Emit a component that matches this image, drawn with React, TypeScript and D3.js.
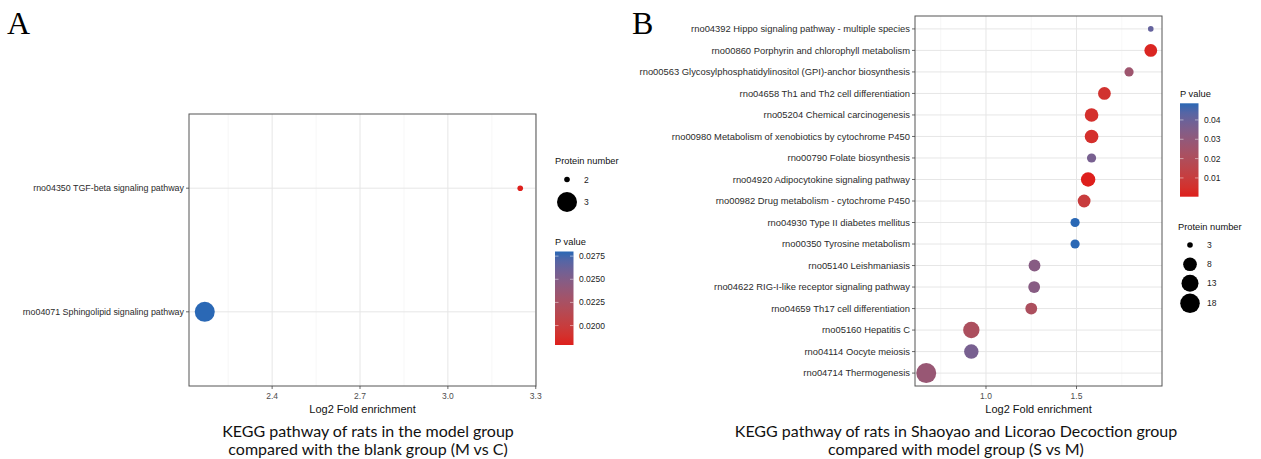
import * as d3 from 'd3'

// Panel A: model vs blank (M vs C)
const A_PATHWAYS = [
  'rno04350 TGF-beta signaling pathway',
  'rno04071 Sphingolipid signaling pathway',
]
const A_FOLD = [3.247, 2.17]
const A_COUNT = [2, 3]
const A_PVALUE = [0.0179, 0.028]
const A_X_TICKS = [2.4, 2.7, 3.0, 3.3]
const A_SIZE_BREAKS = [2, 3]
const A_P_BREAKS = [0.02, 0.0225, 0.025, 0.0275]

// Panel B: Shaoyao and Licorao Decoction vs model (S vs M)
const B_PATHWAYS = [
  'rno04392 Hippo signaling pathway - multiple species',
  'rno00860 Porphyrin and chlorophyll metabolism',
  'rno00563 Glycosylphosphatidylinositol (GPI)-anchor biosynthesis',
  'rno04658 Th1 and Th2 cell differentiation',
  'rno05204 Chemical carcinogenesis',
  'rno00980 Metabolism of xenobiotics by cytochrome P450',
  'rno00790 Folate biosynthesis',
  'rno04920 Adipocytokine signaling pathway',
  'rno00982 Drug metabolism - cytochrome P450',
  'rno04930 Type II diabetes mellitus',
  'rno00350 Tyrosine metabolism',
  'rno05140 Leishmaniasis',
  'rno04622 RIG-I-like receptor signaling pathway',
  'rno04659 Th17 cell differentiation',
  'rno05160 Hepatitis C',
  'rno04114 Oocyte meiosis',
  'rno04714 Thermogenesis',
]
const B_FOLD = [1.91, 1.91, 1.79, 1.654, 1.583, 1.583, 1.583, 1.564, 1.542, 1.492, 1.492, 1.268, 1.266, 1.25, 0.919, 0.919, 0.67]
const B_COUNT = [3, 7, 4, 7, 8, 8, 4, 9, 7, 4, 4, 6, 6, 6, 12, 9, 19]
const B_PVALUE = [0.041, 0.002, 0.026, 0.006, 0.005, 0.005, 0.037, 0.0003, 0.01, 0.0486, 0.0486, 0.033, 0.033, 0.021, 0.021, 0.037, 0.028]
const B_X_TICKS = [1.0, 1.5]
const B_SIZE_BREAKS = [3, 8, 13, 18]
const B_P_BREAKS = [0.01, 0.02, 0.03, 0.04]

const LOW = '#DE1F1C'
const HIGH = '#2A68B5'
const SANS = '"Liberation Sans", Arial, sans-serif'
const CAPTION_FONT = 'Lato, "Open Sans", sans-serif'

type PanelProps = {
  id: string
  pathways: string[]
  fold: number[]
  count: number[]
  pvalue: number[]
  xTicks: number[]
  sizeBreaks: number[]
  pBreaks: number[]
  pFormat: string
  labelSize: number
  box: { left: number; right: number; top: number; bottom: number }
  sizeLegend: { x: number; y: number; rows: number[] }
  colorLegend: { x: number; y: number; barTop: number; barBottom: number }
}

const Panel = (p: PanelProps) => {
  const { box } = p
  const ext = d3.extent(p.fold) as [number, number]
  const pad = (ext[1] - ext[0]) * 0.05
  const x = d3.scaleLinear().domain([ext[0] - pad, ext[1] + pad]).range([box.left, box.right])
  const y = d3.scalePoint<string>().domain(p.pathways).range([box.top, box.bottom]).padding(0.6)

  const cExt = d3.extent(p.count) as [number, number]
  const sizeNorm = d3.scaleLinear().domain(cExt).range([0, 1]).clamp(true)
  const r = (n: number) => 2.8 + 7.2 * Math.sqrt(sizeNorm(n))

  const pExt = d3.extent(p.pvalue) as [number, number]
  const color = d3.scaleLinear<string>().domain(pExt).range([LOW, HIGH]).interpolate(d3.interpolateLab)
  const barY = d3.scaleLinear().domain(pExt).range([p.colorLegend.barBottom, p.colorLegend.barTop])

  // minor gridlines half-way between major ticks
  const step = p.xTicks.length > 1 ? p.xTicks[1] - p.xTicks[0] : 0.5
  const [d0, d1] = x.domain()
  const minor: number[] = []
  for (let v = p.xTicks[0] - step / 2; v < d1; v += step) if (v > d0) minor.push(v)
  const major = p.xTicks.filter(t => t >= d0 - 1e-9 && t <= d1 + 1e-9)

  const cl = p.colorLegend
  const sl = p.sizeLegend
  const gradId = `grad-${p.id}`
  const midX = (box.left + box.right) / 2

  return (
    <g>
      <defs>
        <linearGradient id={gradId} x1="0" y1="1" x2="0" y2="0">
          {d3.range(0, 1.0001, 0.1).map(t => (
            <stop key={t} offset={t} stopColor={color(pExt[0] + t * (pExt[1] - pExt[0]))} />
          ))}
        </linearGradient>
      </defs>
      <rect x={box.left} y={box.top} width={box.right - box.left} height={box.bottom - box.top} fill="#fff" />
      {minor.map(v => (
        <line key={'m' + v} x1={x(v)} x2={x(v)} y1={box.top} y2={box.bottom} stroke="#F1F1F1" strokeWidth={0.6} />
      ))}
      {major.map(v => (
        <line key={'M' + v} x1={x(v)} x2={x(v)} y1={box.top} y2={box.bottom} stroke="#E6E6E6" strokeWidth={1} />
      ))}
      {p.pathways.map(c => (
        <line key={'h' + c} x1={box.left} x2={box.right} y1={y(c)} y2={y(c)} stroke="#E6E6E6" strokeWidth={1} />
      ))}
      {p.pathways.map((c, i) => (
        <circle key={'pt' + c} cx={x(p.fold[i])} cy={y(c)} r={r(p.count[i])} fill={color(p.pvalue[i])} />
      ))}
      <rect x={box.left} y={box.top} width={box.right - box.left} height={box.bottom - box.top} fill="none" stroke="#555" strokeWidth={1} />

      {/* y axis */}
      {p.pathways.map(c => (
        <g key={'yl' + c}>
          <line x1={box.left - 3} x2={box.left} y1={y(c)} y2={y(c)} stroke="#444" strokeWidth={0.8} />
          <text x={box.left - 5} y={(y(c) ?? 0) + 3.2} textAnchor="end" fontSize={p.labelSize} fill="#2b2b2b" fontFamily={SANS}>{c}</text>
        </g>
      ))}
      {/* x axis */}
      {major.map(v => (
        <g key={'xl' + v}>
          <line x1={x(v)} x2={x(v)} y1={box.bottom} y2={box.bottom + 3} stroke="#444" strokeWidth={0.8} />
          <text x={x(v)} y={box.bottom + 13} textAnchor="middle" fontSize={8.5} fill="#4D4D4D" fontFamily={SANS}>{v.toFixed(1)}</text>
        </g>
      ))}
      <text x={midX} y={box.bottom + 27} textAnchor="middle" fontSize={11} fill="#111" fontFamily={SANS}>Log2 Fold enrichment</text>

      {/* size legend */}
      <text x={sl.x} y={sl.y} fontSize={9.3} fill="#111" fontFamily={SANS}>Protein number</text>
      {p.sizeBreaks.map((b, i) => (
        <g key={'sb' + b}>
          <circle cx={sl.x + 12} cy={sl.rows[i]} r={r(b)} fill="#000" />
          <text x={sl.x + 29} y={sl.rows[i] + 3} fontSize={8.5} fill="#222" fontFamily={SANS}>{b}</text>
        </g>
      ))}

      {/* colour legend */}
      <text x={cl.x} y={cl.y} fontSize={9.3} fill="#111" fontFamily={SANS}>P value</text>
      <rect x={cl.x} y={cl.barTop} width={18.5} height={cl.barBottom - cl.barTop} fill={`url(#${gradId})`} />
      {p.pBreaks.map(b => (
        <g key={'pb' + b}>
          <line x1={cl.x} x2={cl.x + 3.5} y1={barY(b)} y2={barY(b)} stroke="#fff" strokeOpacity={0.6} strokeWidth={0.8} />
          <line x1={cl.x + 15} x2={cl.x + 18.5} y1={barY(b)} y2={barY(b)} stroke="#fff" strokeOpacity={0.6} strokeWidth={0.8} />
          <text x={cl.x + 24} y={barY(b) + 3} fontSize={8.5} fill="#222" fontFamily={SANS}>{d3.format(p.pFormat)(b)}</text>
        </g>
      ))}
    </g>
  )
}

export default function App() {
  return (
    <svg width={1261} height={459} style={{ position: 'absolute', left: 0, top: 0, background: '#fff' }}>
      <rect width={1261} height={459} fill="#fff" />
      <text x={7} y={34} fontSize={32} fontFamily='"Liberation Serif", "Times New Roman", serif'>A</text>
      <text x={632} y={34} fontSize={32} fontFamily='"Liberation Serif", "Times New Roman", serif'>B</text>

      <Panel
        id="a"
        pathways={A_PATHWAYS}
        fold={A_FOLD}
        count={A_COUNT}
        pvalue={A_PVALUE}
        xTicks={A_X_TICKS}
        sizeBreaks={A_SIZE_BREAKS}
        pBreaks={A_P_BREAKS}
        pFormat=".4f"
        labelSize={8.9}
        box={{ left: 189, right: 536, top: 114, bottom: 386 }}
        sizeLegend={{ x: 555, y: 164, rows: [179.5, 202] }}
        colorLegend={{ x: 555, y: 245, barTop: 251.5, barBottom: 345 }}
      />
      <Panel
        id="b"
        pathways={B_PATHWAYS}
        fold={B_FOLD}
        count={B_COUNT}
        pvalue={B_PVALUE}
        xTicks={B_X_TICKS}
        sizeBreaks={B_SIZE_BREAKS}
        pBreaks={B_P_BREAKS}
        pFormat=".2f"
        labelSize={9.4}
        box={{ left: 915, right: 1162, top: 16, bottom: 386 }}
        sizeLegend={{ x: 1178, y: 230, rows: [245, 264.3, 283.3, 303.3] }}
        colorLegend={{ x: 1180, y: 97, barTop: 103.3, barBottom: 196.7 }}
      />

      <g fontFamily={CAPTION_FONT} fontSize={16} fill="#111" textAnchor="middle">
        <text x={368} y={437}>KEGG pathway of rats in the model group</text>
        <text x={368} y={455}>compared with the blank group (M vs C)</text>
        <text x={956} y={437}>KEGG pathway of rats in Shaoyao and Licorao Decoction group</text>
        <text x={956} y={455}>compared with model group (S vs M)</text>
      </g>
    </svg>
  )
}
